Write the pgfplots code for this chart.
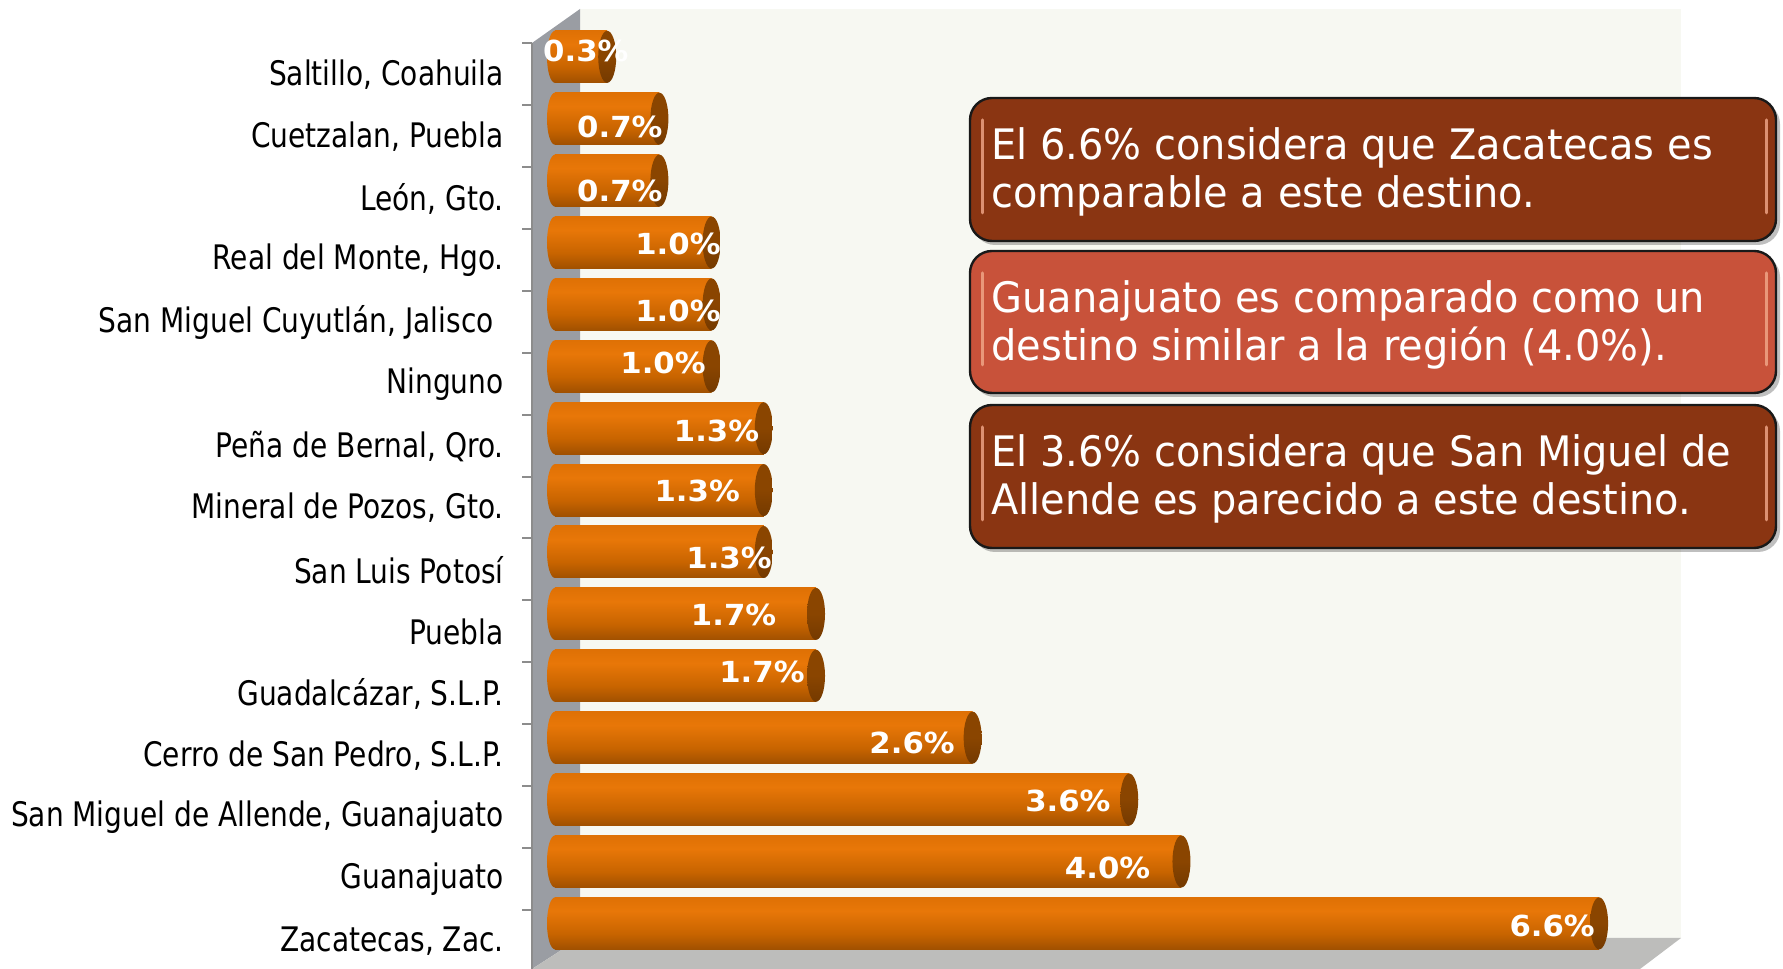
\documentclass[border=0pt]{standalone}
\usepackage{fontspec}
\setmainfont[FakeStretch=0.83]{DejaVu Sans}
\newfontfamily\boxfont[FakeStretch=0.95]{DejaVu Sans}
\newfontfamily\labfont[FakeStretch=1.06]{DejaVu Sans}
\usepackage{pgfplots}
\pgfplotsset{compat=1.18}
\usepackage{pgfplotstable}

\definecolor{wallback}{HTML}{F7F8F2}
\definecolor{wallside}{HTML}{9A9DA3}
\definecolor{floorc}{HTML}{BDBDBB}
\definecolor{tickgray}{HTML}{8C8C8C}
\definecolor{boxA}{HTML}{8A3512}
\definecolor{boxB}{HTML}{C8523A}
\definecolor{boxhl}{HTML}{F2A98A}
\definecolor{cylA}{HTML}{5A2C00}
\definecolor{cylB}{HTML}{7E3F00}
\definecolor{cylC}{HTML}{C86400}
\definecolor{cylD}{HTML}{E87708}
\definecolor{cylE}{HTML}{D86C02}
\definecolor{cylF}{HTML}{A05200}
\definecolor{capA}{HTML}{5E2E00}
\definecolor{capB}{HTML}{8A4500}

\pgfdeclareverticalshading{cyl}{100bp}{color(0bp)=(cylA); color(12bp)=(cylB); color(40bp)=(cylC); color(62bp)=(cylD); color(85bp)=(cylE); color(100bp)=(cylF)}
\pgfdeclareverticalshading{capsh}{100bp}{color(0bp)=(capA); color(50bp)=(capB); color(100bp)=(capB)}

\pgfdeclareplotmark{capL}{\pgfpathellipse{\pgfpointorigin}{\pgfqpoint{4pt}{0pt}}{\pgfqpoint{0pt}{13pt}}\pgfshadepath{cyl}{0}\pgfusepath{}}
\pgfdeclareplotmark{capR}{\pgfpathellipse{\pgfpointorigin}{\pgfqpoint{4.5pt}{0pt}}{\pgfqpoint{0pt}{13pt}}\pgfshadepath{capsh}{0}\pgfusepath{}}

\pgfplotstableread{
y v lx ly lab
0 6.60 6.575 -0.04 6.6
1 3.96 3.765 0.90 4.0
2 3.63 3.514 1.98 3.6
3 2.64 2.529 2.92 2.6
4 1.65 1.580 4.055 1.7
5 1.65 1.401 4.99 1.7
6 1.32 1.372 5.91 1.3
7 1.32 1.171 6.99 1.3
8 1.32 1.293 7.96 1.3
9 0.99 0.955 9.05 1.0
10 0.99 1.049 9.89 1.0
11 0.99 1.049 10.97 1.0
12 0.66 0.682 11.835 0.7
13 0.66 0.682 12.86 0.7
14 0.33 0.467 14.09 0.3
}\datatable

\begin{document}
\begin{tikzpicture}
\path[use as bounding box] (0,0) rectangle (891.5pt,484.5pt);
\begin{scope}[x=0.5pt,y=-0.5pt,shift={(0pt,484.5pt)}]
 \fill[wallback] (580,9) rectangle (1681,938);
 \fill[wallside] (532,43) -- (580,9) -- (580,938) -- (532,969) -- cycle;
 \fill[floorc] (532,969) -- (580,938) -- (1681,938) -- (1640,969) -- cycle;
 \draw[tickgray, line width=1pt] (532,43) -- (532,969);
 \foreach \j in {0,...,14} \draw[tickgray, line width=1pt] (522,{43.3+61.9*\j}) -- (532,{43.3+61.9*\j});
\end{scope}

\begin{axis}[
  at={(277.5pt,7.35pt)}, anchor=south west,
  scale only axis, width=553.7pt, height=464.2pt,
  xmin=0, xmax=7, ymin=-0.5, ymax=14.5,
  clip=false,
  axis x line=none, axis y line=left,
  y axis line style={draw=none,-},
  major tick length=0pt,
  ytick={0,...,14},
  yticklabels={{Zacatecas, Zac.},{Guanajuato},{San Miguel de Allende, Guanajuato},{Cerro de San Pedro, S.L.P.},{Guadalcázar, S.L.P.},{Puebla},{San Luis Potosí},{Mineral de Pozos, Gto.},{Peña de Bernal, Qro.},{Ninguno},{San Miguel Cuyutlán, Jalisco\kern5pt},{Real del Monte, Hgo.},{León, Gto.},{Cuetzalan, Puebla},{Saltillo, Coahuila}},
  yticklabel style={font=\fontsize{16.9}{17}\selectfont, anchor=east, inner sep=0pt, xshift=-25.5pt, yshift=-9pt, text=black},
]
\pgfplotsinvokeforeach{0,...,14}{
  \addplot[xbar, bar width=26pt, draw=none, shade, shading=cyl, shading angle=0, restrict expr to domain={\coordindex}{#1:#1}] table[x=v,y=y]{\datatable};
}
\addplot[only marks, mark=capL] table[x expr=0,y=y]{\datatable};
\addplot[only marks, mark=capR] table[x=v,y=y]{\datatable};
\addplot[mark=none, draw=none, nodes near coords={\pgfmathprintnumber[fixed,fixed zerofill,precision=1,assume math mode=true]{\pgfplotspointmeta}\%}, point meta=explicit,
  every node near coord/.style={anchor=east, inner sep=0pt, text=white, font=\labfont\bfseries\fontsize{14.5}{15}\selectfont}] table[x=lx,y=ly,meta=lab]{\datatable};
\end{axis}

\begin{scope}[x=0.5pt,y=-0.5pt,shift={(0pt,484.5pt)}]
 \foreach \ya/\yb/\c in {98/241/boxA, 251/393/boxB, 405/548/boxA} {
   \fill[black, opacity=0.25, rounded corners=11pt] (973,{\ya+4}) rectangle (1780,{\yb+4});
   \filldraw[fill=\c, draw=black!90, line width=1.2pt, rounded corners=11pt] (970,\ya) rectangle (1776,\yb);
   \draw[boxhl, opacity=0.8, line width=1.5pt, line cap=round] (982,{\ya+22}) -- (982,{\yb-28});
   \draw[boxhl, opacity=0.8, line width=1.5pt, line cap=round] (1766,{\ya+22}) -- (1766,{\yb-28});
 }
 \tikzset{boxtext/.style={anchor=base west, text=white, inner sep=0pt, font=\boxfont\fontsize{21}{24}\selectfont}}
 \node[boxtext] at (991,159.5) {El 6.6\% considera que Zacatecas es};
 \node[boxtext] at (991,208) {comparable a este destino.};
 \node[boxtext] at (991,312.5) {Guanajuato es comparado como un};
 \node[boxtext] at (991,361) {destino similar a la región (4.0\%).};
 \node[boxtext] at (991,466.5) {El 3.6\% considera que San Miguel de};
 \node[boxtext] at (991,515) {Allende es parecido a este destino.};
\end{scope}
\end{tikzpicture}
\end{document}
